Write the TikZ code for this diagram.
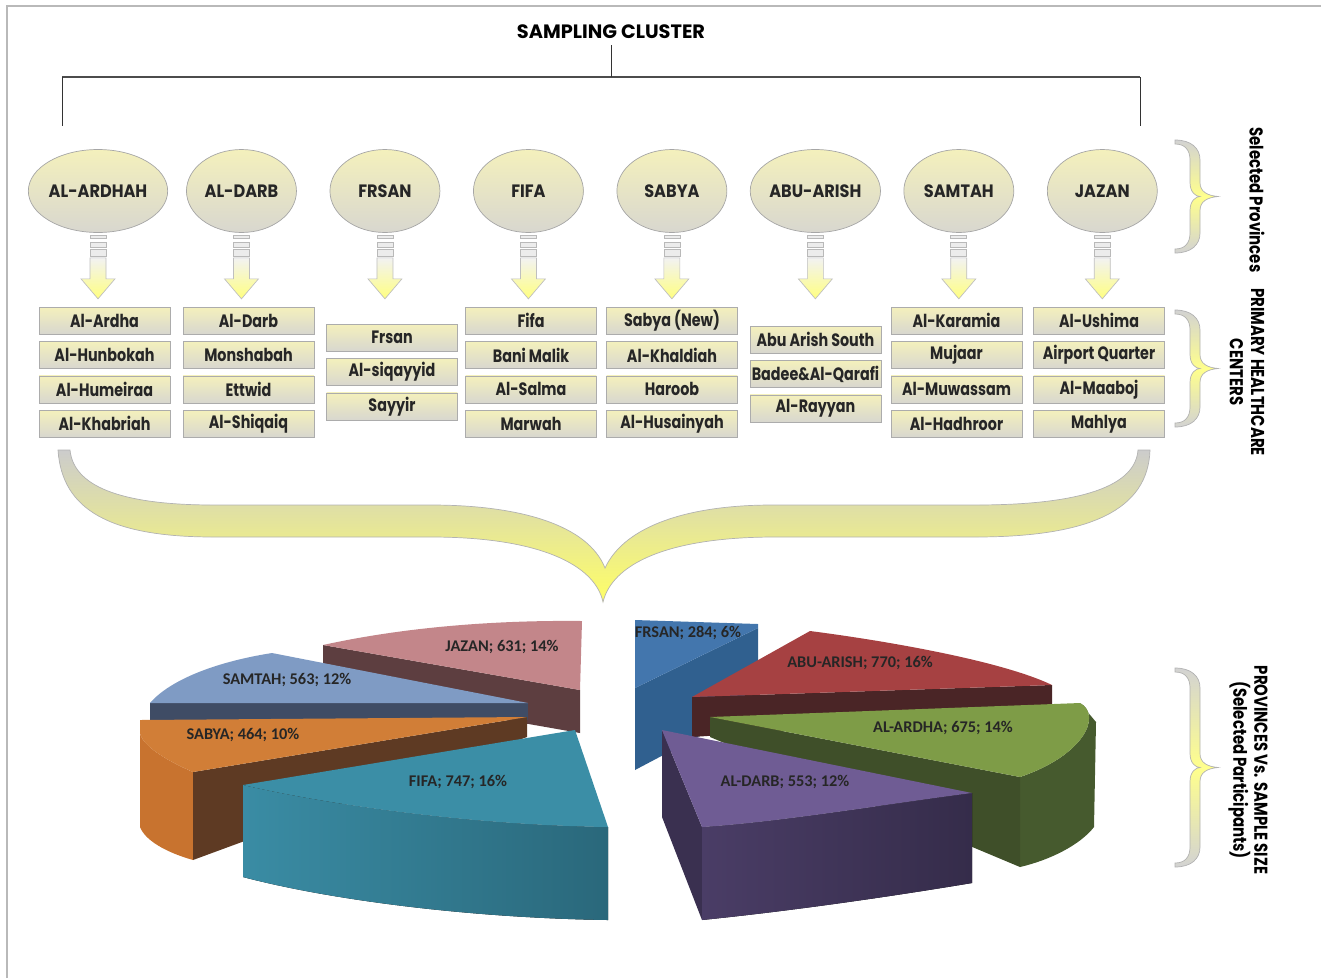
\documentclass[tikz,border=0pt]{standalone}
\usepackage{fontspec}
\setmainfont{Poppins}
\newfontfamily\provfont{Poppins}[FakeStretch=0.9]
\newfontfamily\boxfont{Poppins}[FakeStretch=0.8]
\newfontfamily\piefont{Carlito}
\usetikzlibrary{shapes.geometric, positioning}

\definecolor{cream}{HTML}{F4F0BC}
\definecolor{stone}{HTML}{D8D7CF}
\definecolor{jazantop}{HTML}{C3868A}
\definecolor{jazanside}{HTML}{5D3E40}
\definecolor{samtahtop}{HTML}{7F9BC4}
\definecolor{samtahside}{HTML}{3F4C65}
\definecolor{sabyatop}{HTML}{D17E37}
\definecolor{sabyaouter}{HTML}{C8732F}
\definecolor{sabyaside}{HTML}{5E3A23}
\definecolor{fifatop}{HTML}{3B8EA6}
\definecolor{fifaleft}{HTML}{3A8CA4}
\definecolor{fifaright}{HTML}{2A687B}
\definecolor{frsantop}{HTML}{4376AD}
\definecolor{frsanside}{HTML}{30608F}
\definecolor{abutop}{HTML}{A64142}
\definecolor{abuside}{HTML}{4A2526}
\definecolor{ardhatop}{HTML}{7E9C47}
\definecolor{ardhaside}{HTML}{3F4F29}
\definecolor{ardhaouter}{HTML}{465A2E}
\definecolor{darbtop}{HTML}{6F5C94}
\definecolor{darbside}{HTML}{3A3050}
\definecolor{darbleft}{HTML}{4A3D66}
\definecolor{darbright}{HTML}{352C4A}

\tikzset{
    node distance=2.87cm,
    prov/.style={ellipse, draw=gray!70, top color=cream, bottom color=stone,
        minimum width=2.2cm, minimum height=1.66cm, inner sep=0pt, text=black!85,
        font=\provfont\bfseries\fontsize{10.2}{11}\selectfont},
    centre/.style={draw=gray!65, top color=cream, bottom color=stone,
        minimum width=2.62cm, minimum height=0.54cm, inner sep=0pt, text=black!85,
        font=\boxfont\bfseries\fontsize{10.2}{11}\selectfont},
    slicelabel/.style={text=black!85, font=\piefont\bfseries\fontsize{9.3}{10}\selectfont},
    sidelabel/.style={rotate=-90, align=center,
        font=\boxfont\bfseries\fontsize{10.6}{12}\selectfont},
    bar/.style={draw=gray!55, fill=gray!15},
    downarrow/.style={draw=gray!50, top color=gray!10, bottom color=yellow!50},
    brace/.style={draw=gray!60, top color=gray!35, bottom color=gray!35, middle color=yellow!45},
}

\begin{document}
\begin{tikzpicture}[x=0.02cm, y=-0.02cm]
    \useasboundingbox (0,0) rectangle (1321,978);
    \draw[gray!55, line width=0.8pt] (7,978) -- (7,6) -- (1321,6);

    % tree
    \node[font=\bfseries\fontsize{11}{12}\selectfont] (title) at (611,32) {SAMPLING CLUSTER};
    \coordinate (hl) at (62,77);
    \coordinate (hr) at (1140,77);
    \coordinate (lft) at (62,126);
    \coordinate (rgt) at (1140,126);
    \draw[black!70, line width=1.2pt] (hl) -- (hr);
    \draw[black!80] (title.south) -- (title.south |- hl);
    \draw[black!80] (hl) -- (lft)
                    (hr) -- (rgt);

    % provinces
    \node[prov] (ardhah) at (98,191) {AL-ARDHAH};
    \node[prov, right of=ardhah] (darb) {AL-DARB};
    \node[prov, right of=darb] (frsan) {FRSAN};
    \node[prov, right of=frsan] (fifa) {FIFA};
    \node[prov, right of=fifa] (sabya) {SABYA};
    \node[prov, right of=sabya] (abuarish) {ABU-ARISH};
    \node[prov, right of=abuarish] (samtah) {SAMTAH};
    \node[prov, right of=samtah] (jazan) {JAZAN};

    \foreach \p in {ardhah,darb,frsan,fifa,sabya,abuarish,samtah,jazan}{
        \begin{scope}[shift={(\p.south)}]
            \draw[bar] (-8,2) rectangle (8,5);
            \draw[bar] (-8,9) rectangle (8,14);
            \draw[bar] (-8,16) rectangle (8,23);
            \draw[downarrow] (-8,25) -- (8,25) -- (8,46) -- (17,46) -- (0,66) -- (-17,46) -- (-8,46) -- cycle;
        \end{scope}
    }

    % primary healthcare centers
    \node[centre] (ardhah1) at (104.5,320.5) {Al-Ardha};
    \node[centre, below=0.135cm of ardhah1] (ardhah2) {Al-Hunbokah};
    \node[centre, below=0.135cm of ardhah2] (ardhah3) {Al-Humeiraa};
    \node[centre, below=0.135cm of ardhah3] (ardhah4) {Al-Khabriah};

    \node[centre] (darb1) at (248.5,320.5) {Al-Darb};
    \node[centre, below=0.135cm of darb1] (darb2) {Monshabah};
    \node[centre, below=0.135cm of darb2] (darb3) {Ettwid};
    \node[centre, below=0.135cm of darb3] (darb4) {Al-Shiqaiq};

    \node[centre] (frsan1) at (392,337.5) {Frsan};
    \node[centre, below=0.135cm of frsan1] (frsan2) {Al-siqayyid};
    \node[centre, below=0.135cm of frsan2] (frsan3) {Sayyir};

    \node[centre] (fifa1) at (531,320.5) {Fifa};
    \node[centre, below=0.135cm of fifa1] (fifa2) {Bani Malik};
    \node[centre, below=0.135cm of fifa2] (fifa3) {Al-Salma};
    \node[centre, below=0.135cm of fifa3] (fifa4) {Marwah};

    \node[centre] (sabya1) at (672,320.5) {Sabya (New)};
    \node[centre, below=0.135cm of sabya1] (sabya2) {Al-Khaldiah};
    \node[centre, below=0.135cm of sabya2] (sabya3) {Haroob};
    \node[centre, below=0.135cm of sabya3] (sabya4) {Al-Husainyah};

    \node[centre] (abuarish1) at (815.5,339.5) {Abu Arish South};
    \node[centre, below=0.135cm of abuarish1] (abuarish2) {Badee\&Al-Qarafi};
    \node[centre, below=0.135cm of abuarish2] (abuarish3) {Al-Rayyan};

    \node[centre] (samtah1) at (956.5,320.5) {Al-Karamia};
    \node[centre, below=0.135cm of samtah1] (samtah2) {Mujaar};
    \node[centre, below=0.135cm of samtah2] (samtah3) {Al-Muwassam};
    \node[centre, below=0.135cm of samtah3] (samtah4) {Al-Hadhroor};

    \node[centre] (jazan1) at (1099,320.5) {Al-Ushima};
    \node[centre, below=0.135cm of jazan1] (jazan2) {Airport Quarter};
    \node[centre, below=0.135cm of jazan2] (jazan3) {Al-Maaboj};
    \node[centre, below=0.135cm of jazan3] (jazan4) {Mahlya};

    % side braces and labels
    \foreach \yt/\yb in {140/253, 310/427, 668/867}{
        \pgfmathsetmacro{\bh}{\yb-\yt}
        \pgfmathsetmacro{\bm}{\bh/2}
        \begin{scope}[shift={(1175,\yt)}]
            \draw[brace] (0,0) .. controls (16,0) and (25,8) .. (25,20)
                -- (25,\bm-14) .. controls (25,\bm-5) and (32,\bm-1) .. (43,\bm)
                .. controls (32,\bm+1) and (25,\bm+5) .. (25,\bm+14)
                -- (25,\bh-20) .. controls (25,\bh-8) and (16,\bh) .. (0,\bh)
                -- (0,\bh-4) .. controls (10,\bh-4) and (15,\bh-10) .. (15,\bh-20)
                -- (15,\bm+14) .. controls (15,\bm+4) and (21,\bm) .. (25,\bm)
                .. controls (21,\bm) and (15,\bm-4) .. (15,\bm-14)
                -- (15,20) .. controls (15,10) and (10,4) .. (0,4) -- cycle;
        \end{scope}
    }
    \node[sidelabel] (selprov) at (1257,200) {Selected Provinces};
    \node[sidelabel] (phc) at (1247,372) {PRIMARY HEALTHCARE\\CENTERS};
    \node[sidelabel] (psize) at (1248,770) {PROVINCES Vs. SAMPLE SIZE\\(Selected Participants)};

    % big brace
    \draw[gray!60, top color=gray!40, bottom color=yellow!60]
        (58,450) .. controls (62,510) and (110,537) .. (214,537) -- (431,537)
        .. controls (540,537) and (595,565) .. (603,602)
        .. controls (612,565) and (665,537) .. (775,537) -- (975,537)
        .. controls (1090,537) and (1148,510) .. (1150,450) -- (1138,450)
        .. controls (1135,490) and (1070,505) .. (975,505) -- (772,505)
        .. controls (690,505) and (625,525) .. (605,568)
        .. controls (588,525) and (520,505) .. (431,505) -- (214,505)
        .. controls (130,505) and (74,490) .. (70,450) -- cycle;

    % pie, left part
    \fill[jazanside] (323,645) -- (580,690) -- (580,733) -- (323,688) -- cycle;
    \fill[jazantop] (323,645) .. controls (400,628) and (490,620) .. (582,621) -- (580,690) -- cycle;
    \fill[samtahside] (150,703) -- (528,703) -- (528,720) -- (150,720) -- cycle;
    \fill[samtahtop] (272,653) .. controls (215,662) and (170,680) .. (150,703) -- (528,703) -- cycle;
    \fill[sabyaouter] (140,733) .. controls (142,745) and (165,760) .. (193,772) -- (193,860)
        .. controls (165,852) and (145,840) .. (140,827) -- cycle;
    \fill[sabyaside] (193,772) -- (527,717) -- (527,737) -- (193,860) -- cycle;
    \fill[sabyatop] (140,720) -- (527,717) -- (193,772) .. controls (165,760) and (142,745) .. (140,733) -- cycle;
    \fill[left color=fifaleft, right color=fifaright] (243,785) .. controls (330,805) and (470,825) .. (608,827)
        -- (608,920) .. controls (470,918) and (330,900) .. (243,877) -- cycle;
    \fill[fifatop] (575,730) -- (608,827) .. controls (470,825) and (330,805) .. (243,785) -- cycle;

    % pie, right part
    \fill[frsanside] (635,688) -- (758,628) -- (758,705) -- (635,770) -- cycle;
    \fill[frsantop] (635,620) -- (758,624) -- (758,628) -- (635,688) -- cycle;
    \fill[abuside] (692,697) -- (1052,685) -- (1052,713) -- (692,737) -- cycle;
    \fill[abutop] (692,697) -- (810,631) .. controls (880,640) and (1000,660) .. (1052,685) -- cycle;
    \fill[ardhaouter] (1080,703) -- (1096,722) -- (1094,827) .. controls (1080,845) and (1050,860) .. (1020,867)
        -- (1020,777) .. controls (1085,755) and (1102,715) .. (1080,703) -- cycle;
    \fill[ardhaside] (710,717) -- (1020,777) -- (1020,867) -- (710,737) -- cycle;
    \fill[ardhatop] (710,717) -- (1080,703) .. controls (1102,715) and (1085,755) .. (1020,777) -- cycle;
    \fill[darbside] (662,730) -- (702,827) -- (702,920) -- (662,817) -- cycle;
    \fill[left color=darbleft, right color=darbright] (702,827) .. controls (780,822) and (880,805) .. (972,793)
        -- (972,883) .. controls (900,895) and (800,910) .. (702,920) -- cycle;
    \fill[darbtop] (662,730) -- (972,793) .. controls (880,805) and (780,822) .. (702,827) -- cycle;

    % slice labels
    \node[slicelabel] (ljazan) at (502,647) {JAZAN; 631; 14\%};
    \node[slicelabel] (lsamtah) at (287,680) {SAMTAH; 563; 12\%};
    \node[slicelabel] (lsabya) at (243,735) {SABYA; 464; 10\%};
    \node[slicelabel] (lfifa) at (458,782) {FIFA; 747; 16\%};
    \node[slicelabel] (lfrsan) at (688,633) {FRSAN; 284; 6\%};
    \node[slicelabel] (labuarish) at (860,663) {ABU-ARISH; 770; 16\%};
    \node[slicelabel] (lardha) at (943,728) {AL-ARDHA; 675; 14\%};
    \node[slicelabel] (ldarb) at (785,782) {AL-DARB; 553; 12\%};
\end{tikzpicture}
\end{document}
